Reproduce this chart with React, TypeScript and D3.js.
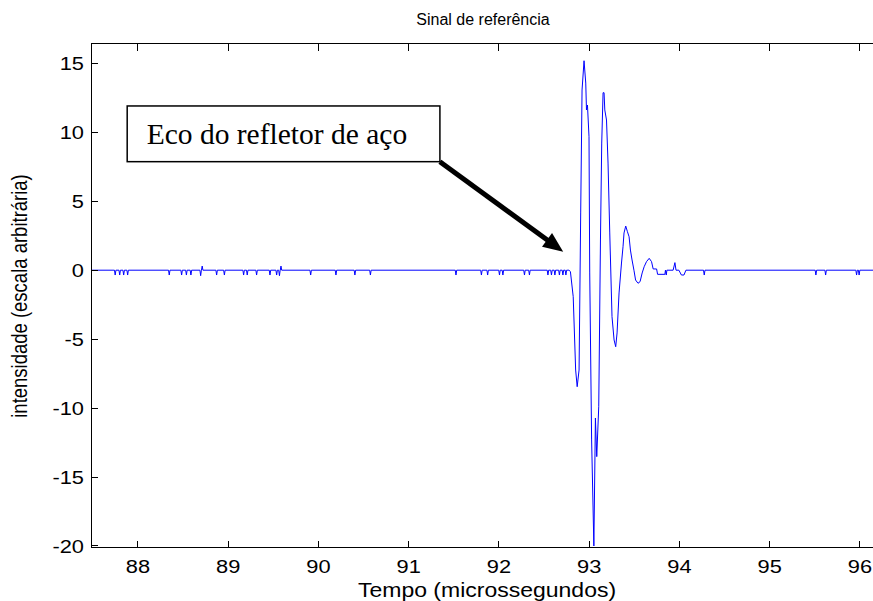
import React from "react";
import * as d3 from "d3";

// ---- data (time in microseconds, intensity arbitrary) ----
const xTicks = [88, 89, 90, 91, 92, 93, 94, 95, 96];
const yTicks = [15, 10, 5, 0, -5, -10, -15, -20];

const pulseT = [92.776, 92.792, 92.823, 92.85, 92.867, 92.888, 92.906, 92.921, 92.943, 92.962, 92.97, 92.981, 92.998, 93.006, 93.027, 93.052, 93.069, 93.084, 93.106, 93.125, 93.139, 93.154, 93.165, 93.173, 93.192, 93.209, 93.228, 93.253, 93.276, 93.294, 93.309, 93.331, 93.358, 93.375, 93.386, 93.405, 93.424, 93.442, 93.457, 93.475, 93.496, 93.514, 93.541, 93.564, 93.587, 93.609, 93.635, 93.665, 93.691, 93.709, 93.747, 93.758, 93.839, 93.845, 93.854, 93.861, 93.93, 93.95, 93.962, 93.994, 94.022, 94.05, 94.072];
const pulseV = [0, -0.1, -1.92, -7.24, -8.45, -7.24, 4.15, 13.07, 15.19, 13.57, 11.62, 11.98, 9.68, -0.2, -12.31, -20.0, -10.72, -13.52, -9.9, 2.19, 9.22, 12.87, 12.87, 11.62, 10.89, 7.77, 2.7, -3.37, -5.06, -5.55, -4.55, -1.65, 0.52, 1.7, 2.7, 3.2, 2.79, 2.43, 1.46, 0.74, 0, -0.71, -0.95, -0.83, -0.2, 0.25, 0.62, 0.86, 0.62, 0.09, 0.09, -0.3, -0.3, 0, -0.35, 0, 0, 0.55, 0, 0, -0.35, -0.35, 0];

const spikeT = [87.748, 87.798, 87.842, 87.886, 88.347, 88.484, 88.537, 88.587, 88.695, 88.712, 88.872, 88.958, 89.171, 89.211, 89.315, 89.463, 89.537, 89.568, 89.585, 89.914, 90.194, 90.404, 90.576, 91.524, 91.806, 91.875, 92.006, 92.044, 92.283, 92.338, 92.543, 92.582, 92.62, 92.67, 92.709, 92.742, 94.275, 95.512, 95.62, 95.963, 95.991];
const spikeV = [-0.35, -0.35, -0.35, -0.35, -0.35, -0.35, -0.35, -0.35, -0.4, 0.3, -0.35, -0.35, -0.35, -0.35, -0.35, -0.35, -0.35, -0.4, 0.3, -0.35, -0.35, -0.35, -0.35, -0.35, -0.35, -0.35, -0.35, -0.35, -0.35, -0.35, -0.35, -0.35, -0.35, -0.35, -0.35, -0.35, -0.35, -0.35, -0.35, -0.35, -0.35];

const tStart = 87.48;
const tEnd = 96.3;
const sampleDt = 0.008;

// annotation (in data coordinates)
const annotText = "Eco do refletor de aço";
const annotBox = { t0: 87.881, v0: 11.91, t1: 91.346, v1: 7.87 };
const arrowTip = { t: 92.712, v: 1.34 };

const title = "Sinal de referência";
const xLabel = "Tempo (microssegundos)";
const yLabel = "intensidade (escala arbitrária)";

const W = 873;
const H = 601;
const SANS = "'Liberation Sans', Arial, Helvetica, sans-serif";
const SERIF = "'Liberation Serif', 'Times New Roman', serif";
const SX = 1.18;

export default function App() {
  const x = d3.scaleLinear().domain([tStart, tEnd]).range([91, 91 + (tEnd - tStart) * 90.25]);
  const y = d3.scaleLinear().domain([-20.11, 16.44]).range([547.5, 43.5]);

  const pts: [number, number][] = [[tStart, 0], [tEnd, 0]];
  spikeT.forEach((t, i) => {
    pts.push([t - sampleDt, 0], [t, spikeV[i]], [t + sampleDt, 0]);
  });
  pulseT.forEach((t, i) => pts.push([t, pulseV[i]]));
  pts.sort((a, b) => a[0] - b[0]);

  const line = d3
    .line<[number, number]>()
    .x((d) => x(d[0]))
    .y((d) => y(d[1]));

  const left = x(tStart);
  const right = x(tEnd);
  const top = y.range()[1];
  const bottom = y.range()[0];
  const tick = 7;

  // arrow
  const ax0 = x(annotBox.t1);
  const ay0 = y(annotBox.v1);
  const ax1 = x(arrowTip.t);
  const ay1 = y(arrowTip.v);
  const dx = ax1 - ax0;
  const dy = ay1 - ay0;
  const len = Math.sqrt(dx * dx + dy * dy);
  const ux = dx / len;
  const uy = dy / len;
  const headL = 20;
  const headW = 8.5;
  const bx = ax1 - ux * headL;
  const by = ay1 - uy * headL;
  const head = `M${ax1},${ay1} L${bx - uy * headW},${by + ux * headW} L${bx + uy * headW},${by - ux * headW} Z`;

  return (
    <svg
      width={W}
      height={H}
      style={{ position: "absolute", left: 0, top: 0, background: "#fff" }}
    >
      <rect x={0} y={0} width={W} height={H} fill="#fff" />
      <defs>
        <clipPath id="plotclip">
          <rect x={left} y={top - 1} width={right - left} height={bottom - top + 2} />
        </clipPath>
      </defs>

      {/* signal */}
      <path
        d={line(pts) || ""}
        fill="none"
        stroke="#0000ff"
        strokeWidth={1}
        clipPath="url(#plotclip)"
      />

      {/* axes box */}
      <g stroke="#000" strokeWidth={1} fill="none" shapeRendering="crispEdges">
        <line x1={left} y1={top} x2={right} y2={top} />
        <line x1={left} y1={bottom} x2={right} y2={bottom} />
        <line x1={left} y1={top} x2={left} y2={bottom} />
        <line x1={right} y1={top} x2={right} y2={bottom} />
        {xTicks.map((t) => (
          <g key={"xt" + t}>
            <line x1={x(t)} y1={bottom} x2={x(t)} y2={bottom - tick} />
            <line x1={x(t)} y1={top} x2={x(t)} y2={top + tick} />
          </g>
        ))}
        {yTicks.map((v) => (
          <g key={"yt" + v}>
            <line x1={left} y1={y(v)} x2={left + tick} y2={y(v)} />
            <line x1={right} y1={y(v)} x2={right - tick} y2={y(v)} />
          </g>
        ))}
      </g>

      {/* tick labels */}
      <g fontFamily={SANS} fontSize={18.5} fill="#000">
        {xTicks.map((t) => (
          <text
            key={"xl" + t}
            textAnchor="middle"
            transform={`translate(${x(t)},${573}) scale(${SX},1)`}
          >
            {t}
          </text>
        ))}
        {yTicks.map((v) => (
          <text
            key={"yl" + v}
            textAnchor="end"
            transform={`translate(${84},${y(v) + 6.7}) scale(${SX},1)`}
          >
            {v}
          </text>
        ))}
      </g>

      {/* title and labels */}
      <text
        fontFamily={SANS}
        fontSize={16}
        textAnchor="middle"
        transform={`translate(${483},${25})`}
      >
        {title}
      </text>
      <text
        fontFamily={SANS}
        fontSize={19.5}
        textAnchor="middle"
        transform={`translate(${487},${597}) scale(${SX},1)`}
      >
        {xLabel}
      </text>
      <text
        fontFamily={SANS}
        fontSize={18.5}
        textAnchor="middle"
        transform={`translate(${27},${296}) rotate(-90) scale(1,${SX})`}
      >
        {yLabel}
      </text>

      {/* annotation */}
      <rect
        x={x(annotBox.t0)}
        y={y(annotBox.v0)}
        width={x(annotBox.t1) - x(annotBox.t0)}
        height={y(annotBox.v1) - y(annotBox.v0)}
        fill="#fff"
        stroke="#000"
        strokeWidth={1.5}
      />
      <text
        x={x(annotBox.t0) + 19.5}
        y={y(annotBox.v0) + 38}
        fontFamily={SERIF}
        fontSize={29.5}
        fill="#000"
      >
        {annotText}
      </text>
      <line
        x1={ax0}
        y1={ay0}
        x2={bx + ux * 2}
        y2={by + uy * 2}
        stroke="#000"
        strokeWidth={5}
      />
      <path d={head} fill="#000" />
    </svg>
  );
}
